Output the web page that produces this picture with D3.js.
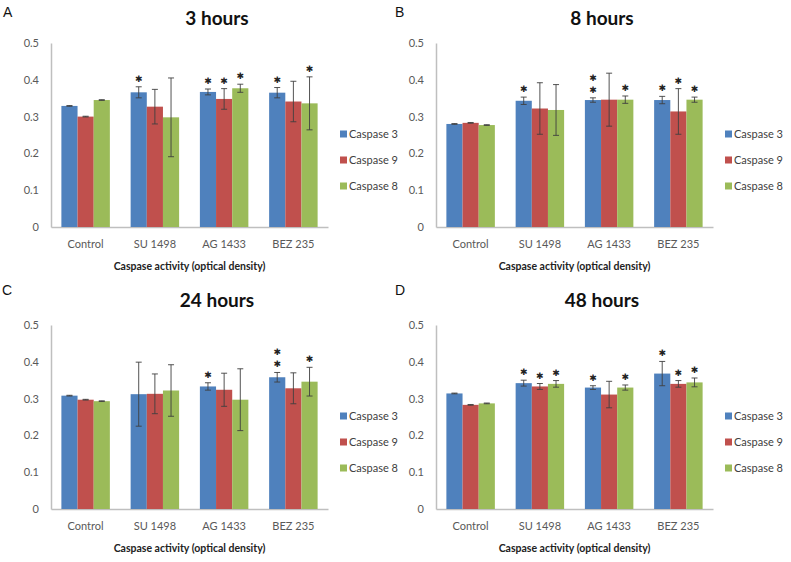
<!DOCTYPE html>
<html><head><meta charset="utf-8">
<script src="https://cdn.jsdelivr.net/npm/d3@7"></script>
<style>body{margin:0;background:#fff}svg{display:block}</style>
</head><body>
<svg id="chart" width="791" height="562"></svg>
<script>
const categories = ["Control", "SU 1498", "AG 1433", "BEZ 235"];
const seriesNames = ["Caspase 3", "Caspase 9", "Caspase 8"];
const colors = ["#4f81bd", "#c0504d", "#9bbb59"];
const yTicks = [0, 0.1, 0.2, 0.3, 0.4, 0.5];
const panelLetters = ["A", "B", "C", "D"];
const panelTitles = ["3 hours", "8 hours", "24 hours", "48 hours"];
const xTitle = "Caspase activity (optical density)";

// values per panel: [series][category]
const means3h = [[0.329, 0.366, 0.367, 0.365], [0.300, 0.327, 0.348, 0.341], [0.345, 0.298, 0.377, 0.336]];
const errs3h = [[0.001, 0.015, 0.008, 0.014], [0.001, 0.047, 0.028, 0.055], [0.001, 0.107, 0.011, 0.072]];
const stars3h = [[0, 1, 1, 1], [0, 0, 1, 0], [0, 0, 1, 1]];

const means8h = [[0.280, 0.343, 0.345, 0.345], [0.283, 0.322, 0.346, 0.314], [0.277, 0.318, 0.346, 0.346]];
const errs8h = [[0.001, 0.010, 0.006, 0.010], [0.001, 0.070, 0.072, 0.062], [0.001, 0.069, 0.010, 0.007]];
const stars8h = [[0, 1, 2, 1], [0, 0, 0, 1], [0, 0, 1, 1]];

const means24h = [[0.308, 0.312, 0.333, 0.358], [0.297, 0.313, 0.324, 0.328], [0.293, 0.322, 0.297, 0.346]];
const errs24h = [[0.001, 0.087, 0.010, 0.013], [0.001, 0.054, 0.045, 0.042], [0.001, 0.070, 0.084, 0.039]];
const stars24h = [[0, 0, 1, 2], [0, 0, 0, 0], [0, 0, 0, 1]];

const means48h = [[0.314, 0.342, 0.330, 0.368], [0.283, 0.333, 0.311, 0.340], [0.287, 0.340, 0.330, 0.344]];
const errs48h = [[0.001, 0.008, 0.005, 0.033], [0.001, 0.008, 0.036, 0.009], [0.001, 0.009, 0.007, 0.012]];
const stars48h = [[0, 1, 1, 1], [0, 1, 0, 1], [0, 1, 1, 1]];

const panels = [
  {means: means3h, errs: errs3h, stars: stars3h},
  {means: means8h, errs: errs8h, stars: stars8h},
  {means: means24h, errs: errs24h, stars: stars24h},
  {means: means48h, errs: errs48h, stars: stars48h}
];

const svg = d3.select("#chart");
const FONT = "Lato, 'Open Sans', sans-serif";
const offsets = [[0, 0], [385, 0], [0, 282], [385, 282]];
const letterPos = [[3, 17], [395, 17], [2, 295], [395, 295]];

const plot = {x0: 51, x1: 328, y0: 227, y1: 43};

panels.forEach((p, i) => {
  svg.append("text").attr("x", letterPos[i][0]).attr("y", letterPos[i][1])
    .attr("font-family", "Arial, 'Liberation Sans', sans-serif").attr("font-size", 14)
    .attr("fill", "#111").text(panelLetters[i]);

  const g = svg.append("g").attr("transform", `translate(${offsets[i][0]},${offsets[i][1]})`);
  const x = d3.scaleBand().domain(categories).range([plot.x0, plot.x1]).paddingInner(0.3).paddingOuter(0.15);
  const xs = d3.scaleBand().domain(seriesNames).range([0, x.bandwidth()]);
  const y = d3.scaleLinear().domain([0, 0.5]).range([plot.y0, plot.y1]);

  g.append("text").attr("x", 217).attr("y", 25).attr("text-anchor", "middle")
    .attr("font-family", FONT).attr("font-weight", "bold").attr("font-size", 19)
    .attr("fill", "#111").text(panelTitles[i]);

  const yAxis = g.append("g").attr("transform", `translate(${plot.x0},0)`)
    .call(d3.axisLeft(y).tickValues(yTicks).tickSize(0).tickPadding(12).tickFormat(d => d === 0 ? "0" : d3.format(".1f")(d)));
  yAxis.select(".domain").attr("stroke", "#bfbfbf").attr("stroke-width", 1.5);
  yAxis.selectAll("text").attr("font-family", FONT).attr("font-size", 11).attr("fill", "#595959");

  const xAxis = g.append("g").attr("transform", `translate(0,${plot.y0})`)
    .call(d3.axisBottom(x).tickSize(0).tickPadding(13));
  xAxis.select(".domain").attr("stroke", "#bfbfbf").attr("stroke-width", 1.5);
  xAxis.selectAll("text").attr("font-family", FONT).attr("font-size", 11).attr("fill", "#595959");

  g.append("text").attr("x", (plot.x0 + plot.x1) / 2).attr("y", 270).attr("text-anchor", "middle")
    .attr("font-family", FONT).attr("font-weight", "bold").attr("font-size", 10.5)
    .attr("fill", "#222").text(xTitle);

  seriesNames.forEach((s, si) => {
    const sg = g.append("g");
    categories.forEach((c, ci) => {
      const m = p.means[si][ci], e = p.errs[si][ci];
      const bx = x(c) + xs(s), bw = xs.bandwidth();
      sg.append("rect").attr("x", bx).attr("y", y(m)).attr("width", bw).attr("height", y(0) - y(m))
        .attr("fill", colors[si]);
      const cx = bx + bw / 2;
      const eg = sg.append("g").attr("stroke", "#404040").attr("stroke-width", 0.9);
      eg.append("line").attr("x1", cx).attr("x2", cx).attr("y1", y(m + e)).attr("y2", y(m - e));
      eg.append("line").attr("x1", cx - 3).attr("x2", cx + 3).attr("y1", y(m + e)).attr("y2", y(m + e));
      eg.append("line").attr("x1", cx - 3).attr("x2", cx + 3).attr("y1", y(m - e)).attr("y2", y(m - e));
      const n = p.stars[si][ci];
      for (let k = 0; k < n; k++) {
        sg.append("text").attr("x", cx).attr("y", y(m + e) - 5 - k * 12)
          .attr("text-anchor", "middle").attr("font-family", "'DejaVu Sans', sans-serif")
          .attr("font-size", 9).attr("fill", "#222").text("✱");
      }
    });
  });

  const leg = g.append("g").attr("transform", "translate(340,134)");
  seriesNames.forEach((s, si) => {
    const lg = leg.append("g").attr("transform", `translate(0,${si * 26})`);
    lg.append("rect").attr("x", 0).attr("y", -3.5).attr("width", 7).attr("height", 7).attr("fill", colors[si]);
    lg.append("text").attr("x", 9).attr("y", 0).attr("dy", "0.35em")
      .attr("font-family", FONT).attr("font-size", 11).attr("fill", "#404040").text(s);
  });
});
</script>
</body></html>
